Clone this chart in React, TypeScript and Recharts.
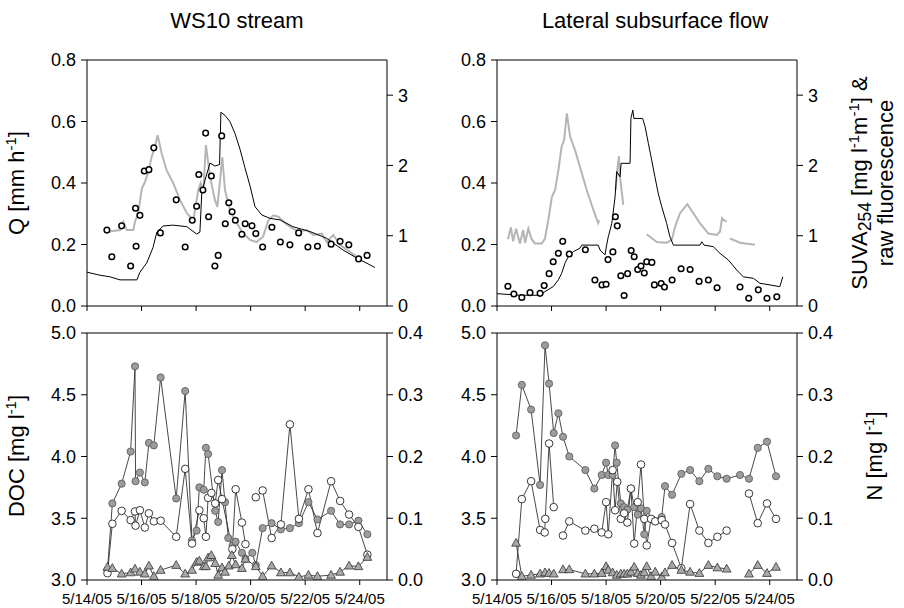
import React from 'react';
import { ComposedChart, Line, XAxis, YAxis, ReferenceLine } from 'recharts';

const FONT = "'Liberation Sans', Arial, Helvetica, sans-serif";

// Axis ticks / labels
const dateTicks = [14, 16, 18, 20, 22, 24];
const dateLabels = ['5/14/05', '5/16/05', '5/18/05', '5/20/05', '5/22/05', '5/24/05'];
const qTicks = [0, 0.2, 0.4, 0.6, 0.8];
const suvaTicks = [0, 1, 2, 3];
const docTicks = [3, 3.5, 4, 4.5, 5];
const nTicks = [0, 0.1, 0.2, 0.3, 0.4];

// ---------- WS10 stream, top ----------
const ws10QTime = [14.00, 14.48, 14.84, 15.21, 15.83, 15.94, 16.19, 16.42, 16.56, 16.79, 17.15, 17.66, 18.02, 18.14, 18.21, 18.33, 18.51, 18.69, 18.86, 18.91, 19.06, 19.24, 19.43, 19.61, 19.79, 19.98, 20.16, 20.41, 20.71, 21.08, 21.55, 22.18, 22.79, 23.39, 23.89, 24.50, 24.56];
const ws10Q = [0.11, 0.10, 0.095, 0.085, 0.085, 0.11, 0.14, 0.19, 0.24, 0.26, 0.263, 0.258, 0.234, 0.24, 0.37, 0.41, 0.465, 0.455, 0.46, 0.63, 0.62, 0.60, 0.56, 0.51, 0.45, 0.39, 0.323, 0.296, 0.285, 0.28, 0.258, 0.242, 0.22, 0.182, 0.156, 0.128, 0.125];

const ws10FluorTime = [14.77, 14.84, 15.21, 15.33, 15.46, 15.70, 15.76, 15.88, 16.01, 16.13, 16.25, 16.37, 16.49, 16.59, 16.74, 16.92, 17.16, 17.41, 17.66, 17.90, 18.08, 18.17, 18.26, 18.36, 18.51, 18.69, 18.78, 18.88, 18.96, 19.06, 19.24, 19.49, 19.73, 19.98, 20.22, 20.46, 20.65, 20.83, 21.02, 21.20, 21.44, 21.75, 22.06, 22.30, 22.61, 22.79, 23.03, 23.28, 23.64, 23.86];
const ws10Fluor = [1.05, 1.06, 1.08, 1.2, 1.08, 1.08, 1.2, 1.32, 1.67, 1.77, 1.91, 2.12, 2.27, 2.43, 2.17, 1.93, 1.75, 1.51, 1.32, 1.22, 1.65, 1.75, 1.60, 2.29, 1.84, 1.51, 1.41, 1.79, 2.12, 1.65, 1.37, 1.18, 1.03, 0.94, 0.91, 0.99, 1.22, 1.29, 1.27, 1.2, 1.13, 1.06, 1.08, 1.01, 1.03, 0.91, 1.01, 0.87, 0.77, 0.71];

const ws10SuvaTime = [14.73, 14.91, 15.27, 15.60, 15.78, 15.80, 15.94, 16.10, 16.27, 16.45, 16.69, 17.27, 17.60, 17.86, 18.02, 18.10, 18.25, 18.35, 18.46, 18.56, 18.69, 18.81, 18.94, 19.07, 19.20, 19.32, 19.44, 19.68, 19.80, 20.05, 20.19, 20.44, 20.78, 21.09, 21.44, 21.76, 22.10, 22.45, 22.95, 23.28, 23.60, 23.96, 24.27];
const ws10Suva = [1.08, 0.70, 1.14, 0.57, 1.39, 0.85, 1.29, 1.92, 1.94, 2.25, 1.04, 1.51, 0.84, 1.22, 1.42, 1.87, 1.65, 2.46, 1.27, 1.85, 0.57, 0.72, 2.42, 1.17, 1.47, 1.34, 1.22, 1.02, 1.17, 1.14, 1.03, 0.84, 1.12, 0.91, 0.87, 1.04, 0.84, 0.85, 0.88, 0.92, 0.87, 0.67, 0.72];

// ---------- Lateral subsurface flow, top ----------
const latQTime = [14.00, 14.84, 15.58, 15.76, 16.06, 16.25, 16.37, 16.49, 16.61, 16.80, 17.04, 17.11, 17.71, 17.78, 17.96, 18.02, 18.08, 18.21, 18.33, 18.39, 18.51, 18.55, 18.88, 18.91, 18.98, 19.02, 19.34, 19.43, 19.55, 19.67, 19.79, 19.91, 20.04, 20.22, 20.34, 20.47, 21.44, 21.51, 21.59, 21.93, 22.18, 22.48, 22.79, 23.03, 23.40, 23.64, 24.37, 24.48];
const latQ = [0.04, 0.035, 0.035, 0.047, 0.063, 0.085, 0.106, 0.139, 0.16, 0.177, 0.188, 0.198, 0.198, 0.182, 0.166, 0.198, 0.225, 0.269, 0.355, 0.437, 0.42, 0.464, 0.464, 0.61, 0.637, 0.61, 0.61, 0.583, 0.529, 0.475, 0.42, 0.367, 0.323, 0.269, 0.225, 0.198, 0.198, 0.209, 0.198, 0.193, 0.171, 0.15, 0.117, 0.095, 0.09, 0.074, 0.063, 0.095];

const latFluorTime = [14.40, 14.51, 14.59, 14.70, 14.84, 14.96, 15.03, 15.15, 15.27, 15.39, 15.64, 15.76, 15.88, 16.01, 16.13, 16.25, 16.37, 16.46, 16.56, 16.68, 16.86, 17.04, 17.29, 17.53, 17.71, 17.75, 18.00, 18.35, 18.40, 18.47, 18.51, 18.63, 19.00, 19.49, 19.86, 20.22, 20.41, 20.53, 20.71, 20.98, 21.20, 21.44, 21.75, 22.06, 22.18, 22.25, 22.32, 22.42, 22.48, 22.54, 22.91, 23.46];
const latFluor = [0.95, 1.12, 0.92, 1.1, 0.89, 1.08, 0.9, 1.1, 0.95, 0.89, 0.89, 0.96, 1.22, 1.55, 1.65, 1.93, 2.27, 2.36, 2.74, 2.41, 2.22, 1.98, 1.65, 1.37, 1.18, 1.22, null, 1.65, 1.9, 2.13, 1.84, 1.44, null, 1.02, 0.91, 0.9, 0.94, 1.13, 1.32, 1.45, 1.32, 1.18, 1.03, 1.01, 1.06, 1.25, 1.22, 1.2, null, 0.96, 0.9, 0.87];

const latSuvaTime = [14.40, 14.62, 14.91, 15.21, 15.58, 15.73, 15.91, 16.06, 16.25, 16.41, 16.65, 17.24, 17.59, 17.85, 18.00, 18.07, 18.25, 18.34, 18.41, 18.54, 18.66, 18.79, 18.92, 19.03, 19.16, 19.28, 19.40, 19.49, 19.68, 19.77, 20.02, 20.14, 20.42, 20.75, 21.08, 21.41, 21.75, 22.07, 22.91, 23.23, 23.58, 23.90, 24.26];
const latSuva = [0.28, 0.17, 0.12, 0.19, 0.18, 0.29, 0.46, 0.63, 0.75, 0.92, 0.74, 0.80, 0.37, 0.30, 0.31, 0.66, 0.77, 1.27, 1.14, 0.43, 0.15, 0.46, 0.79, 0.70, 0.52, 0.57, 0.47, 0.63, 0.62, 0.30, 0.32, 0.27, 0.37, 0.53, 0.52, 0.35, 0.37, 0.26, 0.27, 0.11, 0.23, 0.11, 0.13];

// ---------- WS10 stream, bottom ----------
const ws10DocTime = [14.75, 14.93, 15.27, 15.60, 15.76, 15.78, 15.94, 16.12, 16.27, 16.45, 16.70, 17.27, 17.60, 17.85, 18.02, 18.12, 18.28, 18.36, 18.44, 18.70, 18.81, 18.95, 19.06, 19.18, 19.34, 19.45, 19.68, 19.81, 20.06, 20.19, 20.44, 20.77, 21.11, 21.44, 21.77, 22.12, 22.45, 22.95, 23.28, 23.61, 23.95, 24.28];
const ws10Doc = [3.08, 3.62, 3.78, 4.04, 4.73, 3.80, 3.87, 3.79, 4.11, 4.09, 4.64, 3.66, 4.53, 3.32, 3.40, 3.75, 3.73, 4.07, 4.02, 3.56, 3.47, 3.89, 3.63, 3.34, 3.28, 3.31, 3.22, 3.17, 3.22, 3.12, 3.42, 3.46, 3.41, 3.42, 3.46, 3.63, 3.49, 3.56, 3.45, 3.45, 3.48, 3.37];

const ws10No3Time = [14.75, 14.93, 15.27, 15.60, 15.76, 15.78, 15.94, 16.12, 16.27, 16.45, 16.70, 17.27, 17.60, 17.85, 18.12, 18.28, 18.36, 18.44, 18.56, 18.70, 18.81, 18.95, 19.33, 19.45, 19.68, 19.81, 20.00, 20.19, 20.44, 20.77, 21.11, 21.44, 21.77, 22.12, 22.45, 22.95, 23.28, 23.61, 23.95, 24.28];
const ws10No3 = [0.011, 0.091, 0.112, 0.097, 0.111, 0.088, 0.113, 0.085, 0.108, 0.095, 0.096, 0.070, 0.180, 0.059, 0.113, 0.100, 0.070, 0.133, 0.141, 0.124, 0.162, 0.131, 0.050, 0.147, 0.093, 0.058, null, 0.134, 0.145, 0.068, 0.090, 0.252, 0.099, 0.147, 0.076, 0.160, 0.128, 0.106, 0.086, 0.041];

const ws10Nh4Time = [14.75, 14.93, 15.27, 15.60, 15.76, 15.94, 16.12, 16.27, 16.45, 16.70, 17.27, 17.60, 17.85, 18.02, 18.12, 18.28, 18.36, 18.44, 18.56, 18.70, 18.81, 18.95, 19.06, 19.20, 19.31, 19.45, 19.68, 19.81, 20.19, 20.44, 20.77, 21.11, 21.44, 21.77, 22.12, 22.45, 22.95, 23.28, 23.61, 23.95, 24.28];
const ws10Nh4 = [0.021, 0.019, 0.010, 0.012, 0.018, 0.013, 0.010, 0.023, 0.006, 0.016, 0.024, 0.010, 0.016, 0.029, 0.031, 0.022, 0.022, 0.036, 0.040, 0.027, 0.008, 0.020, 0.013, 0.023, 0.040, 0.025, 0.019, 0.034, 0.022, 0.006, 0.023, 0.012, 0.012, 0.005, 0.008, 0.006, 0.008, 0.013, 0.023, 0.022, 0.037];

// ---------- Lateral subsurface flow, bottom ----------
const latDocTime = [14.70, 14.91, 15.25, 15.58, 15.76, 15.91, 16.08, 16.25, 16.42, 16.65, 17.24, 17.57, 17.84, 18.00, 18.08, 18.24, 18.33, 18.39, 18.54, 18.66, 18.78, 18.91, 19.03, 19.16, 19.28, 19.40, 19.49, 19.69, 20.04, 20.16, 20.42, 20.76, 21.08, 21.42, 21.75, 22.08, 22.42, 22.91, 23.24, 23.56, 23.90, 24.23];
const latDoc = [4.17, 4.58, 4.38, 3.77, 4.90, 4.59, 4.19, 4.35, 4.16, 4.00, 3.89, 3.74, 3.85, 3.95, 3.85, 3.85, 4.09, 3.95, 3.62, 3.59, 3.57, 3.74, 3.59, 3.53, 3.58, 3.37, 3.56, 3.49, 3.51, 3.76, 3.69, 3.86, 3.89, 3.80, 3.90, 3.84, 3.82, 3.85, 3.82, 4.07, 4.12, 3.84];

const latNo3Time = [14.70, 14.91, 15.25, 15.58, 15.75, 15.77, 15.91, 16.08, 16.25, 16.42, 16.65, 17.24, 17.57, 17.84, 18.00, 18.08, 18.24, 18.33, 18.41, 18.54, 18.66, 18.78, 18.91, 19.03, 19.16, 19.28, 19.40, 19.49, 19.65, 19.80, 20.04, 20.16, 20.42, 20.76, 21.08, 21.42, 21.75, 22.08, 22.42, 22.70, 23.24, 23.56, 23.90, 24.23];
const latNo3 = [0.010, 0.131, 0.160, 0.081, 0.077, 0.099, 0.221, 0.118, null, 0.072, 0.095, 0.080, 0.083, 0.077, 0.126, 0.074, 0.178, 0.113, 0.159, 0.099, 0.108, 0.093, 0.148, 0.059, 0.126, 0.187, 0.099, 0.056, 0.099, 0.095, 0.097, 0.090, 0.060, 0.019, 0.123, 0.080, 0.060, 0.070, 0.080, null, 0.140, 0.092, 0.124, 0.099];

const latNh4Time = [14.70, 14.91, 15.25, 15.58, 15.76, 15.91, 16.08, 16.25, 16.42, 16.65, 17.24, 17.57, 17.84, 18.00, 18.08, 18.24, 18.39, 18.54, 18.66, 18.78, 18.91, 19.03, 19.16, 19.28, 19.40, 19.49, 19.65, 19.80, 20.04, 20.16, 20.42, 20.76, 21.08, 21.42, 21.75, 22.08, 22.42, 22.70, 23.24, 23.56, 23.90, 24.23];
const latNh4 = [0.060, 0.006, 0.008, 0.010, 0.012, 0.011, 0.010, null, 0.017, 0.017, 0.010, 0.010, 0.011, 0.022, 0.016, 0.012, 0.008, 0.010, 0.010, 0.010, 0.013, 0.021, 0.011, 0.008, 0.012, 0.022, 0.006, 0.013, 0.005, 0.012, 0.024, 0.016, 0.013, 0.011, 0.024, 0.020, 0.018, null, 0.010, 0.024, 0.011, 0.021];

type Pt = { t: number; v: number | null };
const zip = (ts: number[], vs: (number | null)[]): Pt[] => ts.map((t, i) => ({ t, v: vs[i] }));

const fmtDate = (v: number) => {
  const i = dateTicks.indexOf(v);
  return i >= 0 ? dateLabels[i] : '';
};
const fmt1 = (v: number) => v.toFixed(1);
const fmt0 = (v: number) => String(v);
const blank = () => '';

const mkDot = (kind: string) => (p: any) => {
  const { cx, cy, index } = p;
  const key = `${kind}-${index}`;
  if (cx == null || cy == null || Number.isNaN(cx) || Number.isNaN(cy) || p.value == null) return <g key={key} />;
  if (kind === 'small') return <circle key={key} cx={cx} cy={cy} r={2.8} fill="#fff" stroke="#000" strokeWidth={1.5} />;
  if (kind === 'open') return <circle key={key} cx={cx} cy={cy} r={3.8} fill="#fff" stroke="#222" strokeWidth={0.9} />;
  if (kind === 'gray') return <circle key={key} cx={cx} cy={cy} r={3.6} fill="#9c9c9c" stroke="#555" strokeWidth={0.8} />;
  return (
    <polygon
      key={key}
      points={`${cx},${cy - 4.6} ${cx - 4.4},${cy + 3.2} ${cx + 4.4},${cy + 3.2}`}
      fill="#a8a8a8"
      stroke="#333"
      strokeWidth={0.8}
    />
  );
};

const smallDot = mkDot('small');
const openDot = mkDot('open');
const grayDot = mkDot('gray');
const triDot = mkDot('tri');

type PanelProps = {
  x: number;
  y: number;
  h: number;
  xh: number;
  showX: boolean;
  lDomain: number[];
  lTicks: number[];
  lFmt: (v: number) => string;
  rDomain: number[];
  rTicks: number[];
  rFmt: (v: number) => string;
  children: React.ReactNode;
};

function Panel(p: PanelProps) {
  return (
    <div style={{ position: 'absolute', left: p.x, top: p.y }}>
      <ComposedChart width={440} height={p.h} margin={{ top: 10, right: 0, bottom: 0, left: 0 }}>
        <XAxis
          dataKey="t"
          type="number"
          domain={[14, 25]}
          ticks={dateTicks}
          interval={0}
          allowDataOverflow
          height={p.xh}
          tickSize={5}
          tickMargin={8}
          stroke="#000"
          tick={{ fill: '#000', fontSize: 15, fontFamily: FONT }}
          tickFormatter={p.showX ? fmtDate : blank}
        />
        <YAxis
          yAxisId="l"
          orientation="left"
          width={87}
          domain={p.lDomain}
          ticks={p.lTicks}
          interval={0}
          allowDataOverflow
          tickSize={6}
          tickMargin={5}
          stroke="#000"
          tick={{ fill: '#000', fontSize: 18, fontFamily: FONT }}
          tickFormatter={p.lFmt}
        />
        <YAxis
          yAxisId="r"
          orientation="right"
          width={53}
          domain={p.rDomain}
          ticks={p.rTicks}
          interval={0}
          allowDataOverflow
          tickSize={6}
          tickMargin={5}
          stroke="#000"
          tick={{ fill: '#000', fontSize: 18, fontFamily: FONT }}
          tickFormatter={p.rFmt}
        />
        <ReferenceLine yAxisId="l" y={p.lDomain[1]} stroke="#000" strokeWidth={1} />
        {p.children}
      </ComposedChart>
    </div>
  );
}

const lineCommon = {
  dataKey: 'v',
  type: 'linear' as const,
  activeDot: false as const,
  isAnimationActive: false,
  connectNulls: false,
};

const sup = (s: string) => (
  <span style={{ fontSize: '0.68em', position: 'relative', top: '-0.55em' }}>{s}</span>
);
const sub = (s: string) => (
  <span style={{ fontSize: '0.8em', position: 'relative', top: '0.2em' }}>{s}</span>
);

const rotLabel = (cx: number, cy: number, content: React.ReactNode) => (
  <div
    style={{
      position: 'absolute',
      left: cx,
      top: cy,
      transform: 'translate(-50%, -50%) rotate(-90deg)',
      whiteSpace: 'nowrap',
      fontSize: 22,
      lineHeight: '24px',
      textAlign: 'center',
      color: '#000',
    }}
  >
    {content}
  </div>
);

export default function App() {
  return (
    <div
      style={{
        position: 'absolute',
        left: 0,
        top: 0,
        width: 904,
        height: 608,
        background: '#fff',
        fontFamily: FONT,
        overflow: 'hidden',
      }}
    >
      <div style={{ position: 'absolute', left: 137, top: 8, width: 200, textAlign: 'center', fontSize: 22, lineHeight: '26px' }}>
        WS10 stream
      </div>
      <div style={{ position: 'absolute', left: 505, top: 8, width: 300, textAlign: 'center', fontSize: 22, lineHeight: '26px' }}>
        Lateral subsurface flow
      </div>

      {rotLabel(18, 183, <span>Q [mm h{sup('-1')}]</span>)}
      {rotLabel(18, 456, <span>DOC [mg l{sup('-1')}]</span>)}
      {rotLabel(
        873,
        183,
        <span>
          SUVA{sub('254')} [mg l{sup('-1')}m{sup('-1')}] &amp;
          <br />
          raw fluorescence
        </span>
      )}
      {rotLabel(876, 456, <span>N [mg l{sup('-1')}]</span>)}

      <Panel x={0} y={50} h={270} xh={14} showX={false} lDomain={[0, 0.8]} lTicks={qTicks} lFmt={fmt1} rDomain={[0, 3.5]} rTicks={suvaTicks} rFmt={fmt0}>
        <Line {...lineCommon} yAxisId="r" data={zip(ws10FluorTime, ws10Fluor)} stroke="#b5b5b5" strokeWidth={2} dot={false} />
        <Line {...lineCommon} yAxisId="l" data={zip(ws10QTime, ws10Q)} stroke="#000" strokeWidth={1} dot={false} />
        <Line {...lineCommon} yAxisId="r" data={zip(ws10SuvaTime, ws10Suva)} stroke="none" strokeWidth={0} dot={smallDot} />
      </Panel>

      <Panel x={410} y={50} h={270} xh={14} showX={false} lDomain={[0, 0.8]} lTicks={qTicks} lFmt={fmt1} rDomain={[0, 3.5]} rTicks={suvaTicks} rFmt={fmt0}>
        <Line {...lineCommon} yAxisId="r" data={zip(latFluorTime, latFluor)} stroke="#b5b5b5" strokeWidth={2} dot={false} />
        <Line {...lineCommon} yAxisId="l" data={zip(latQTime, latQ)} stroke="#000" strokeWidth={1} dot={false} />
        <Line {...lineCommon} yAxisId="r" data={zip(latSuvaTime, latSuva)} stroke="none" strokeWidth={0} dot={smallDot} />
      </Panel>

      <Panel x={0} y={323} h={285} xh={28} showX={true} lDomain={[3, 5]} lTicks={docTicks} lFmt={fmt1} rDomain={[0, 0.4]} rTicks={nTicks} rFmt={fmt1}>
        <Line {...lineCommon} yAxisId="l" data={zip(ws10DocTime, ws10Doc)} stroke="#333" strokeWidth={0.9} dot={grayDot} />
        <Line {...lineCommon} yAxisId="r" data={zip(ws10No3Time, ws10No3)} stroke="#333" strokeWidth={0.9} dot={openDot} />
        <Line {...lineCommon} yAxisId="r" data={zip(ws10Nh4Time, ws10Nh4)} stroke="#333" strokeWidth={0.9} dot={triDot} />
      </Panel>

      <Panel x={410} y={323} h={285} xh={28} showX={true} lDomain={[3, 5]} lTicks={docTicks} lFmt={fmt1} rDomain={[0, 0.4]} rTicks={nTicks} rFmt={fmt1}>
        <Line {...lineCommon} yAxisId="l" data={zip(latDocTime, latDoc)} stroke="#333" strokeWidth={0.9} dot={grayDot} />
        <Line {...lineCommon} yAxisId="r" data={zip(latNo3Time, latNo3)} stroke="#333" strokeWidth={0.9} dot={openDot} />
        <Line {...lineCommon} yAxisId="r" data={zip(latNh4Time, latNh4)} stroke="#333" strokeWidth={0.9} dot={triDot} />
      </Panel>
    </div>
  );
}
